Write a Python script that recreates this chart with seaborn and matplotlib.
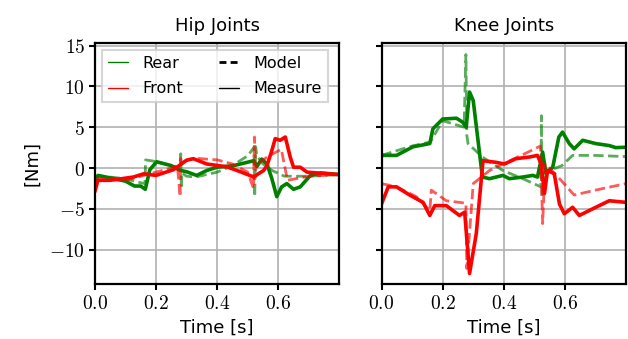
import numpy as np
import pandas as pd
import matplotlib
matplotlib.use("Agg")
import matplotlib.pyplot as plt
import seaborn as sns
from matplotlib.lines import Line2D
from matplotlib.ticker import FuncFormatter

# Hip joints, rear leg (green)
hip_rear_t = [0.0, 0.01, 0.05, 0.10, 0.13, 0.15, 0.165, 0.18, 0.202, 0.25, 0.279, 0.30, 0.333,
              0.366, 0.399, 0.454, 0.52, 0.53, 0.546, 0.563, 0.579, 0.595, 0.611, 0.628, 0.65,
              0.672, 0.705, 0.738, 0.80]
hip_rear_meas = [-1.9, -0.9, -1.2, -1.6, -2.2, -2.2, -2.6, -0.2, 0.77, 0.3, -0.28, -0.45, -0.9,
                 -0.3, 0.1, 0.3, 0.9, 0.2, 1.1, 0.5, -1.3, -3.5, -2.3, -1.9, -2.6,
                 -2.3, -0.9, -0.6, -0.8]
hip_rear_model_t = [0.0, 0.05, 0.10, 0.15, 0.164, 0.166, 0.20, 0.25, 0.279, 0.281, 0.283, 0.285,
                    0.30, 0.33, 0.40, 0.45, 0.50, 0.52, 0.523, 0.526, 0.53, 0.55, 0.58, 0.62,
                    0.70, 0.80]
hip_rear_model = [-1.0, -1.1, -1.3, -1.8, -1.9, 1.0, 0.8, 0.3, -0.1, 1.75, -2.5, -0.6,
                  -1.0, -1.1, -0.5, 0.3, 1.5, 2.5, -3.5, 2.6, 1.5, 0.5, -0.3, -1.0,
                  -1.0, -0.8]

# Hip joints, front leg (red)
hip_front_t = [0.0, 0.01, 0.05, 0.126, 0.16, 0.20, 0.257, 0.30, 0.322, 0.366, 0.432, 0.476,
               0.52, 0.535, 0.552, 0.563, 0.579, 0.59, 0.606, 0.623, 0.639, 0.65, 0.672,
               0.694, 0.727, 0.80]
hip_front_meas = [-2.9, -1.5, -1.5, -1.1, -0.7, -0.9, -0.2, 0.95, 1.15, 0.5, 0.15, -0.45,
                  -1.1, -0.7, -0.3, 0.3, 2.15, 3.6, 3.4, 3.8, 1.35, 0.1, 0.1,
                  -0.5, -0.6, -0.8]
hip_front_model_t = [0.0, 0.10, 0.15, 0.20, 0.25, 0.27, 0.279, 0.281, 0.283, 0.30, 0.33, 0.40,
                     0.45, 0.50, 0.519, 0.522, 0.526, 0.53, 0.57, 0.61, 0.63, 0.70, 0.80]
hip_front_model = [-1.3, -1.5, -1.0, -0.5, 0.0, 0.3, -3.5, 1.2, 0.6, 1.0, 1.2, 1.0,
                   0.5, -0.5, -2.5, 3.8, -0.2, 0.5, 1.5, 2.3, -1.5, -1.0, -0.8]

# Knee joints, rear leg (green)
knee_rear_t = [0.0, 0.049, 0.103, 0.158, 0.168, 0.20, 0.245, 0.266, 0.277, 0.288, 0.30, 0.33,
               0.353, 0.397, 0.418, 0.462, 0.495, 0.51, 0.527, 0.538, 0.56, 0.58, 0.592,
               0.614, 0.63, 0.658, 0.70, 0.745, 0.766, 0.80]
knee_rear_meas = [1.55, 1.55, 2.6, 3.0, 4.8, 6.0, 6.1, 5.6, 5.0, 9.3, 8.25, -1.1,
                  -1.3, -0.9, -1.3, -1.1, -0.9, -1.1, 1.95, -0.7, 0.1, 3.8, 4.4,
                  3.0, 2.35, 3.4, 3.0, 2.75, 2.5, 2.55]
knee_rear_model_t = [0.0, 0.10, 0.16, 0.20, 0.27, 0.276, 0.279, 0.283, 0.33, 0.397, 0.462,
                     0.521, 0.523, 0.525, 0.528, 0.549, 0.59, 0.625, 0.70, 0.80]
knee_rear_model = [1.55, 2.7, 3.2, 5.8, 5.0, 13.9, 4.0, 3.0, 1.35, -0.3, -1.3,
                   -2.3, 6.4, -3.5, -1.5, -0.3, 0.3, 1.55, 1.55, 1.4]

# Knee joints, front leg (red)
knee_front_t = [0.0, 0.022, 0.049, 0.092, 0.136, 0.158, 0.174, 0.212, 0.255, 0.272, 0.288,
                0.31, 0.332, 0.375, 0.402, 0.44, 0.484, 0.51, 0.522, 0.533, 0.543, 0.565,
                0.582, 0.598, 0.625, 0.647, 0.69, 0.745, 0.80]
knee_front_meas = [-4.4, -2.3, -2.3, -3.3, -4.2, -5.8, -4.6, -4.6, -5.8, -5.4, -12.9,
                   -8.0, 0.9, 0.7, 0.5, 1.15, 1.35, 1.55, 0.5, -3.1, -0.3, -0.7,
                   -4.4, -5.6, -4.8, -5.8, -5.0, -4.0, -4.2]
knee_front_model_t = [0.0, 0.049, 0.114, 0.158, 0.163, 0.212, 0.276, 0.279, 0.30, 0.353,
                      0.397, 0.46, 0.52, 0.527, 0.535, 0.555, 0.592, 0.63, 0.70, 0.80]
knee_front_model = [-1.9, -2.3, -3.5, -5.2, -2.7, -4.0, -4.3, -12.3, -1.9, -0.3,
                    0.5, 1.6, 2.7, -6.8, 0.5, -0.2, -1.7, -3.3, -2.7, -1.9]

titles = ["Hip Joints", "Knee Joints"]
y_ticks = [-10, -5, 0, 5, 10, 15]
x_ticks = [0.0, 0.2, 0.4, 0.6]

panels = [
    [(hip_rear_t, hip_rear_meas, hip_rear_model_t, hip_rear_model, "green"),
     (hip_front_t, hip_front_meas, hip_front_model_t, hip_front_model, "red")],
    [(knee_rear_t, knee_rear_meas, knee_rear_model_t, knee_rear_model, "green"),
     (knee_front_t, knee_front_meas, knee_front_model_t, knee_front_model, "red")],
]

sns.set_style("whitegrid", {"grid.color": "#b0b0b0", "axes.edgecolor": "black",
                            "text.color": "black", "axes.labelcolor": "black",
                            "xtick.color": "black", "ytick.color": "black"})
plt.rcParams["font.family"] = ["DejaVu Sans"]
plt.rcParams["mathtext.fontset"] = "cm"

fig, axes = plt.subplots(1, 2, figsize=(6.28, 3.39), dpi=100, sharey=True)
fig.subplots_adjust(left=0.151, right=0.997, top=0.873, bottom=0.162, wspace=0.172)

for ax, title, series in zip(axes, titles, panels):
    for t, meas, mt, model, col in series:
        sns.lineplot(x=mt, y=model, ax=ax, color=col, lw=2.0, ls="--", alpha=0.65,
                     estimator=None, sort=False)
        sns.lineplot(x=t, y=meas, ax=ax, color=col, lw=2.6, estimator=None, sort=False)
    ax.set_title(title, fontsize=13, pad=9)
    ax.set_xlabel("Time [s]", fontsize=13, labelpad=4)
    ax.set_xlim(0, 0.8)
    ax.set_ylim(-14.2, 15.3)
    ax.set_xticks(x_ticks)
    ax.set_yticks(y_ticks)
    ax.xaxis.set_major_formatter(FuncFormatter(lambda v, p: f"${v:.1f}$"))
    ax.yaxis.set_major_formatter(FuncFormatter(lambda v, p: f"${v:g}$"))
    ax.tick_params(axis="both", labelsize=14, length=4, width=1.5, color="black",
                   labelcolor="black", direction="out", left=True, bottom=True, pad=3)
    ax.grid(True, color="#b0b0b0", lw=1.2)
    for sp in ax.spines.values():
        sp.set_linewidth(1.6)
        sp.set_color("black")

axes[0].set_ylabel("[Nm]", fontsize=13, labelpad=6)

handles = [
    Line2D([], [], color="green", lw=1),
    Line2D([], [], color="red", lw=1),
    Line2D([], [], color="black", lw=2, ls=(0, (2.5, 1.5))),
    Line2D([], [], color="black", lw=1),
]
labels = ["Rear", "Front", "Model", "Measure"]
leg = axes[0].legend(handles, labels, loc="upper left", ncol=2, fontsize=11.5,
                     frameon=True, fancybox=False, framealpha=0.8, edgecolor="#cccccc",
                     handlelength=1.3, handletextpad=0.9, columnspacing=2.2,
                     borderaxespad=0.45, borderpad=0.35, labelspacing=0.65)
leg.get_frame().set_linewidth(1.5)

fig.savefig("out.png", dpi=100)
